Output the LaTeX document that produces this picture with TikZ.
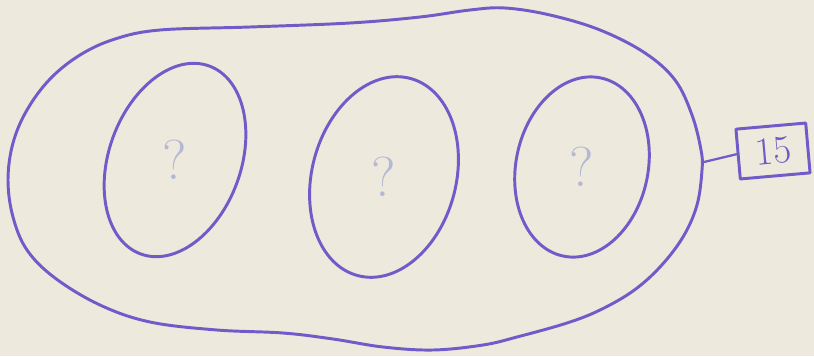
\documentclass[tikz,border=0pt]{standalone}
\usepackage{tikz}
\usetikzlibrary{shapes.geometric}
\definecolor{penink}{RGB}{112,92,200}
\definecolor{faintink}{RGB}{180,184,214}
\definecolor{paper}{RGB}{238,233,221}

\begin{document}
\begin{tikzpicture}[x=0.025cm, y=-0.025cm,
    pen/.style={draw=penink, line width=2.1pt, line join=round, line cap=round},
    egg/.style={pen, ellipse, inner sep=0pt},
    query/.style={text=faintink, font=\fontsize{40}{40}\selectfont},
    tag/.style={pen, rectangle, inner sep=0pt, minimum width=1.75cm,
      minimum height=1.25cm, text=penink, font=\fontsize{28}{28}\selectfont}
  ]

  % ---- paper ----
  \fill[paper] (0,0) rectangle (814,356);
  \useasboundingbox (0,0) rectangle (814,356);

  % ---- outer contour ----
  \draw[pen] plot[smooth cycle, tension=0.6] coordinates {
    (160,30) (250,27) (350,23) (420,17) (470,10) (505,8) (550,15)
    (600,30) (645,53) (675,80) (692,115) (701,150) (702,170)
    (697,205) (683,237) (660,267) (633,291) (600,310) (567,323)
    (517,337) (483,345) (433,350) (383,347) (333,339) (283,333)
    (217,330) (150,322) (100,305) (55,278) (27,250) (13,217)
    (8,180) (13,143) (27,110) (50,79) (80,55) (115,39)
  };
  \coordinate (rim) at (704,162);

  % ---- inner ovals ----
  \node[egg, minimum width=3.3cm, minimum height=5.0cm, rotate=-20]
    (left) at (175,160) {};
  \node[egg, minimum width=3.6cm, minimum height=5.1cm, rotate=-15]
    (middle) at (384,177) {};
  \node[egg, minimum width=3.3cm, minimum height=4.55cm, rotate=-12]
    (right) at (582,167) {};

  \node[query] (qleft) at (left.center) {?};
  \node[query] (qmiddle) at (middle.center) {?};
  \node[query] (qright) at (right.center) {?};

  % ---- number tag ----
  \node[tag, rotate=5] (count) at (773,151) {15};
  \draw[pen, line width=1.6pt] (rim) -- (count.west);

\end{tikzpicture}
\end{document}
